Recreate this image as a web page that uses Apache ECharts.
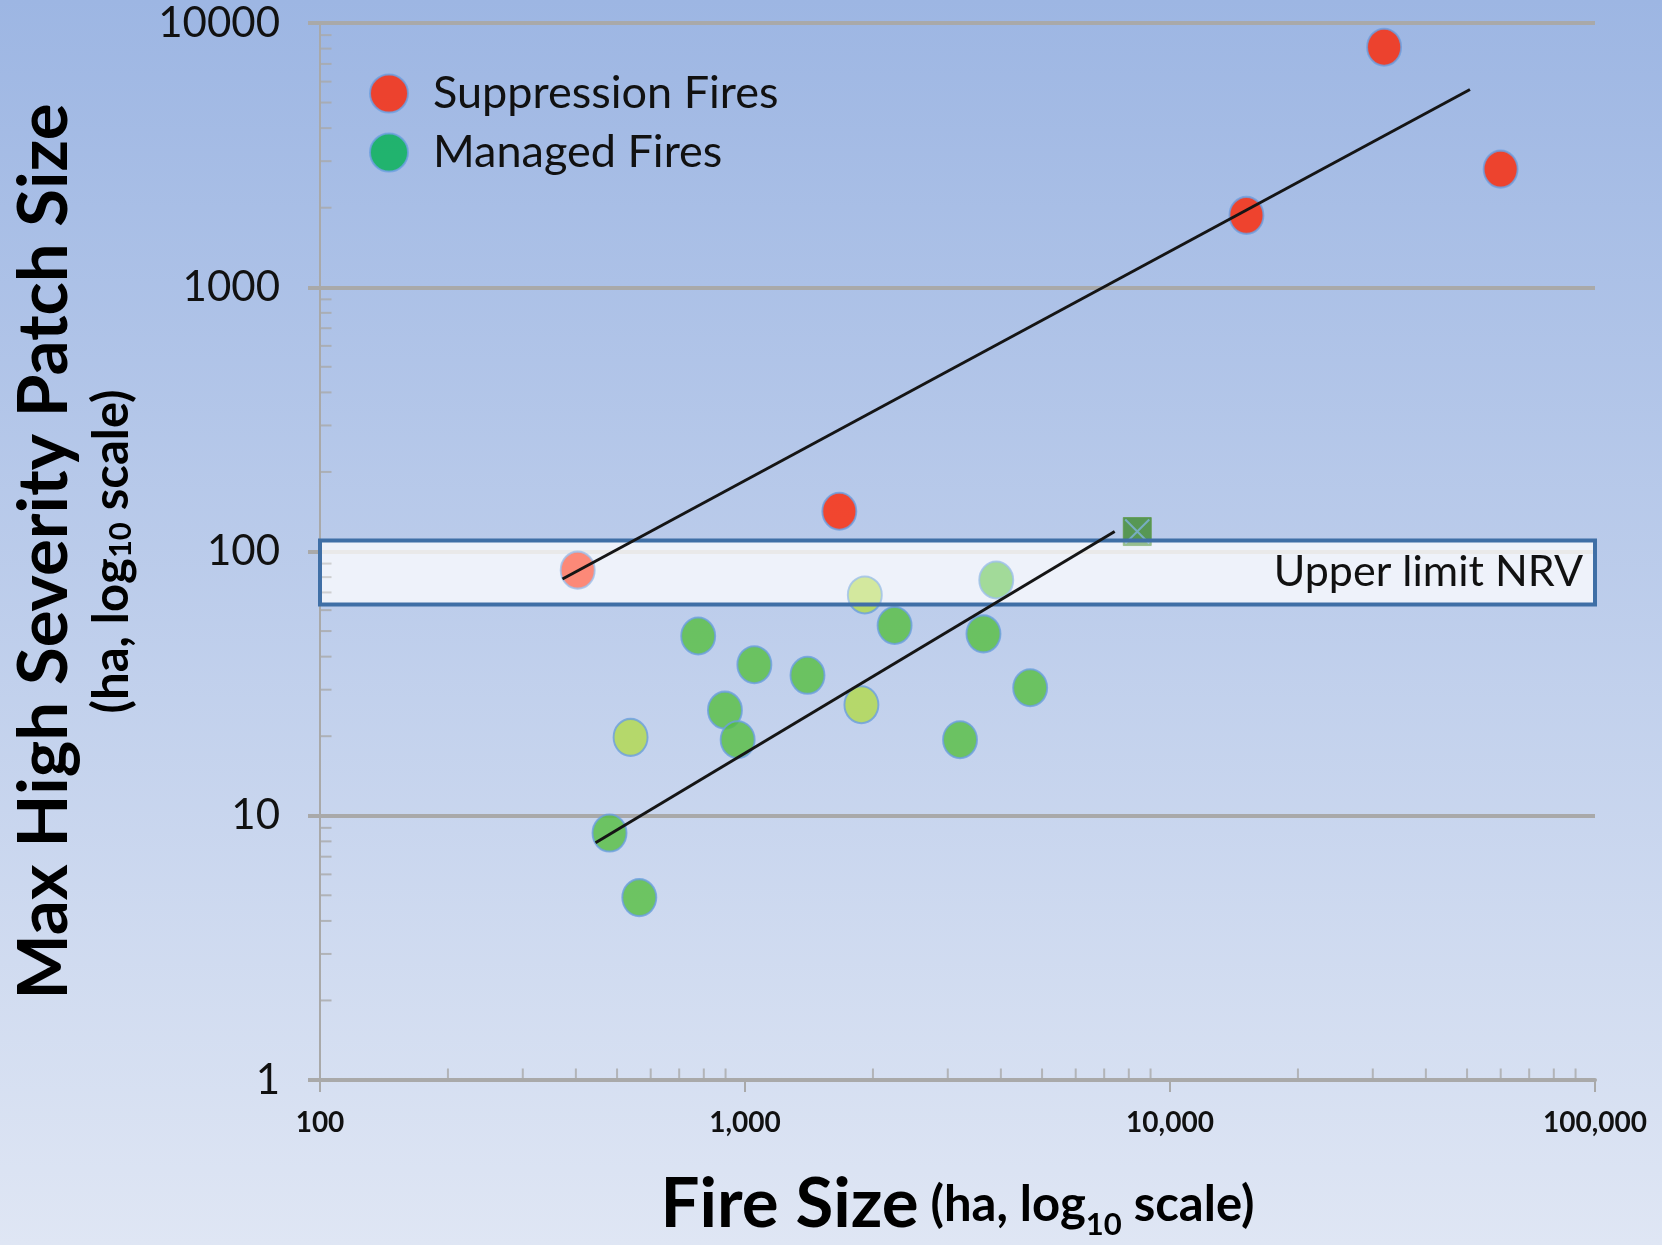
<!DOCTYPE html>
<html>
<head>
<meta charset="utf-8">
<title>Fire size vs max high severity patch size</title>
<script src="https://cdn.jsdelivr.net/npm/echarts@6/dist/echarts.min.js"></script>
<style>
  html, body { margin: 0; padding: 0; width: 1662px; height: 1245px; overflow: hidden; }
  #chart { width: 1662px; height: 1245px; }
</style>
</head>
<body>
<div id="chart"></div>
<script>
// Axis tick labels
const xTickLabels = ['100', '1,000', '10,000', '100,000'];
const yTickLabels = ['1', '10', '100', '1000', '10000'];

// Suppression fires: fire size (ha) and max high-severity patch (ha)
const suppressionFireSize = [404, 1667, 15130, 31900, 59970];
const suppressionPatch = [85, 142, 1870, 8100, 2800];

// Managed fires
const managedFireSize = [480, 564, 538, 776, 897, 961, 1052, 1403, 1879, 1914, 2249, 3206, 3640, 3901, 4688];
const managedPatch = [8.6, 4.9, 19.8, 47.9, 25.1, 19.4, 37.3, 34.0, 26.3, 68.5, 52.5, 19.4, 48.8, 78, 30.5];
// 'y' = lighter yellow-green fires, 'g' = regular green
const managedTone = ['g', 'g', 'y', 'g', 'g', 'g', 'g', 'g', 'y', 'y', 'g', 'g', 'g', 'g', 'g'];

// Managed fire drawn as a square marker
const managedSquare = [[8375, 119]];

// Fitted trend lines (end points)
const suppressionTrend = [[372, 78.7], [50800, 5600]];
const managedTrend = [[445, 7.9], [7410, 119]];

// Natural range of variation band (ha)
const nrvBand = [63, 110];
const nrvLabel = 'Upper limit NRV';

// Log-axis minor tick multipliers
const minorMultipliers = [2, 3, 4, 5, 6, 7, 8, 9];
const yDecades = [1, 10, 100, 1000];
const xDecades = [100, 1000, 10000];

const FONT = 'Lato, "Open Sans", "DejaVu Sans", sans-serif';
const GRID_GRAY = '#a9a9a9';
const RED = '#ff2400';
const GREEN_LEGEND = '#00b050';
const toneColor = { g: '#55be3e', y: '#b2d94a' };

const yMinorTicks = [];
yDecades.forEach(d => minorMultipliers.forEach(m => yMinorTicks.push([100, d * m])));
const xMinorTicks = [];
xDecades.forEach(d => minorMultipliers.forEach(m => xMinorTicks.push([d * m, 1])));

const pointStyle = {
  borderColor: '#6c9fe0',
  borderWidth: 2
};

const nameRich = {
  a: { fontFamily: FONT, fontSize: 69, fontWeight: 'bold', color: '#000', lineHeight: 78 },
  b: { fontFamily: FONT, fontSize: 49, fontWeight: 'bold', color: '#000', lineHeight: 56 },
  s: { fontFamily: FONT, fontSize: 31, fontWeight: 'bold', color: '#000', verticalAlign: 'bottom', padding: [0, 0, 4, 0] }
};

const bandArea = [[
  { name: nrvLabel, xAxis: 100, yAxis: nrvBand[0] },
  { xAxis: 100000, yAxis: nrvBand[1] }
]];

const chart = echarts.init(document.getElementById('chart'), null, { renderer: 'canvas' });

const option = {
  animation: false,
  backgroundColor: {
    type: 'linear', x: 0, y: 0, x2: 0, y2: 1,
    colorStops: [{ offset: 0, color: '#9db6e3' }, { offset: 1, color: '#dfe6f4' }]
  },
  grid: { left: 320, right: 67, top: 23, bottom: 162 },
  legend: {
    data: ['Suppression Fires', 'Managed Fires'],
    orient: 'vertical',
    left: 364,
    top: 66,
    itemWidth: 38,
    itemHeight: 38,
    itemGap: 14,
    icon: 'circle',
    textStyle: { fontFamily: FONT, fontSize: 45, color: '#111', padding: [0, 0, 0, 20] }
  },
  xAxis: {
    type: 'log',
    logBase: 10,
    min: 100,
    max: 100000,
    name: '{a|Fire Size}{b| (ha, log}{s|10}{b| scale)}',
    nameLocation: 'middle',
    nameGap: 86,
    nameTextStyle: { rich: nameRich },
    axisLine: { show: true, lineStyle: { color: GRID_GRAY, width: 4 } },
    axisTick: { show: true, length: 12, lineStyle: { color: GRID_GRAY, width: 2 } },
    axisLabel: {
      formatter: (v, i) => xTickLabels[i],
      fontFamily: FONT, fontSize: 28, fontWeight: 'bold', color: '#111', margin: 29
    },
    splitLine: { show: false }
  },
  yAxis: {
    type: 'log',
    logBase: 10,
    min: 1,
    max: 10000,
    name: '{a|Max High Severity Patch Size}\n{b|(ha, log}{s|10}{b| scale)}',
    nameLocation: 'middle',
    nameRotate: 90,
    nameGap: 180,
    nameTextStyle: { rich: nameRich },
    axisLine: { show: true, lineStyle: { color: GRID_GRAY, width: 2 } },
    axisTick: { show: true, length: 12, lineStyle: { color: GRID_GRAY, width: 4 } },
    axisLabel: {
      formatter: (v, i) => yTickLabels[i],
      fontFamily: FONT, fontSize: 42, color: '#111', margin: 40
    },
    splitLine: { show: true, lineStyle: { color: GRID_GRAY, width: 4 } }
  },
  series: [
    {
      name: 'yMinorTicks',
      type: 'scatter',
      silent: true,
      clip: false,
      symbol: 'rect',
      symbolSize: [11, 2],
      symbolOffset: [6, 0],
      itemStyle: { color: GRID_GRAY },
      data: yMinorTicks,
      z: 1
    },
    {
      name: 'xMinorTicks',
      type: 'scatter',
      silent: true,
      clip: false,
      symbol: 'rect',
      symbolSize: [2, 11],
      symbolOffset: [0, -6],
      itemStyle: { color: GRID_GRAY },
      data: xMinorTicks,
      z: 1
    },
    {
      // white fill of the NRV band, under the points
      name: 'nrvFill',
      type: 'scatter',
      data: [],
      markArea: {
        silent: true,
        z: 1,
        itemStyle: { color: 'rgba(255,255,255,0.62)', borderWidth: 0 },
        label: { show: false },
        data: bandArea
      }
    },
    {
      name: 'Suppression Fires',
      type: 'scatter',
      symbolSize: [34, 37],
      itemStyle: Object.assign({ color: RED }, pointStyle),
      data: suppressionFireSize.map((x, i) => [x, suppressionPatch[i]]),
      z: 2
    },
    {
      name: 'Managed Fires',
      type: 'scatter',
      symbolSize: [34, 37],
      itemStyle: Object.assign({ color: GREEN_LEGEND }, pointStyle),
      data: managedFireSize.map((x, i) => ({
        value: [x, managedPatch[i]],
        itemStyle: { color: toneColor[managedTone[i]] }
      })),
      z: 2
    },
    {
      name: 'managedSquare',
      type: 'scatter',
      symbol: 'rect',
      symbolSize: 28,
      itemStyle: { color: '#3f8a2e', borderColor: '#5f9a4a', borderWidth: 1 },
      data: managedSquare,
      z: 2
    },
    {
      name: 'managedSquareCross',
      type: 'scatter',
      symbol: 'path://M0,0 L10,10 M10,0 L0,10',
      symbolSize: 24,
      itemStyle: { color: 'none', borderColor: '#7fb3dc', borderWidth: 2 },
      data: managedSquare,
      z: 2
    },
    {
      // translucent veil and outline of the NRV band, over the points
      name: 'nrvBand',
      type: 'scatter',
      data: [],
      markArea: {
        silent: true,
        z: 3,
        itemStyle: { color: 'rgba(255,255,255,0.34)', borderColor: '#3f6fa6', borderWidth: 4 },
        label: {
          show: true,
          position: 'insideRight',
          distance: 14,
          fontFamily: FONT,
          fontSize: 43,
          color: '#111'
        },
        data: bandArea
      }
    },
    {
      name: 'suppressionTrend',
      type: 'line',
      symbol: 'none',
      lineStyle: { color: '#151515', width: 3 },
      data: suppressionTrend,
      z: 4
    },
    {
      name: 'managedTrend',
      type: 'line',
      symbol: 'none',
      lineStyle: { color: '#151515', width: 3 },
      data: managedTrend,
      z: 4
    }
  ]
};

chart.setOption(option);
</script>
</body>
</html>
